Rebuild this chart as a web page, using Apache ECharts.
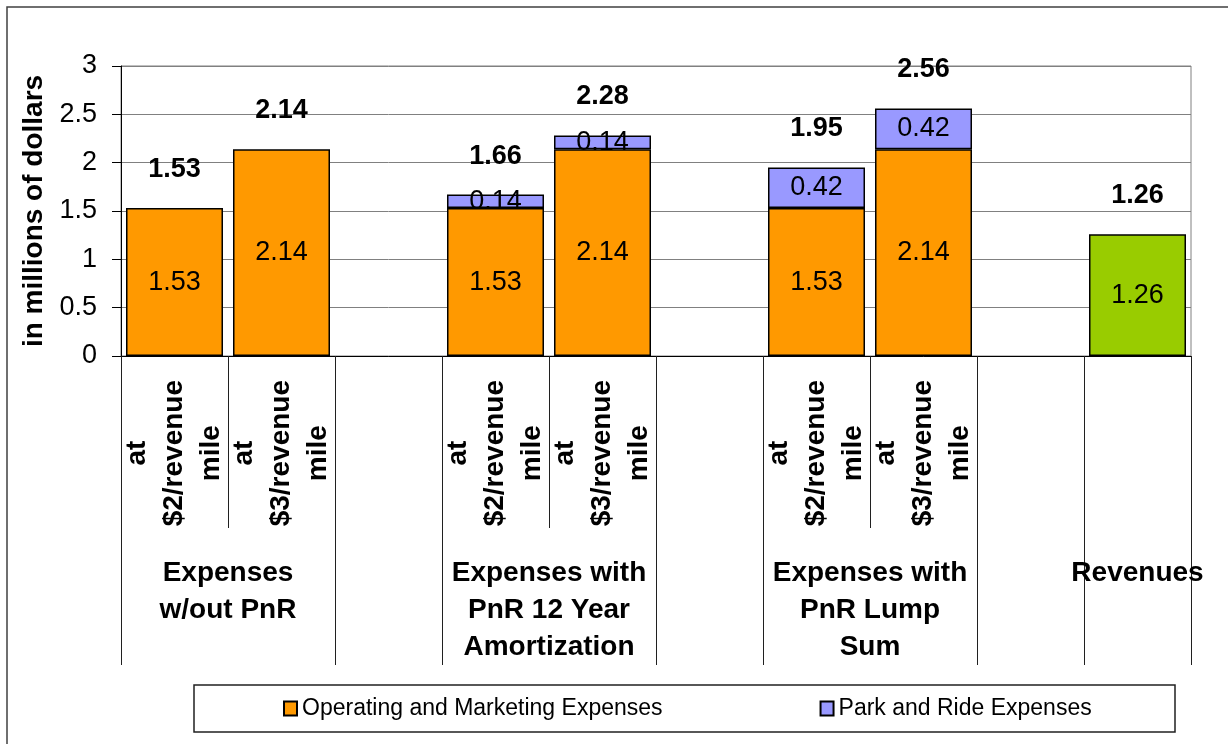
<!DOCTYPE html>
<html>
<head>
<meta charset="utf-8">
<script src="https://cdn.jsdelivr.net/npm/echarts@6/dist/echarts.min.js"></script>
<style>html,body{margin:0;padding:0;background:#fff}#c{width:1228px;height:744px}</style>
</head>
<body>
<div id="c"></div>
<script>
// ---- data ----
var slots = ['s0','s1','s2','s3','s4','s5','s6','s7','s8','s9'];
var subLabels = ['at\n$2/revenue\nmile','at\n$3/revenue\nmile','',
                 'at\n$2/revenue\nmile','at\n$3/revenue\nmile','',
                 'at\n$2/revenue\nmile','at\n$3/revenue\nmile','', ''];
var groupNames = ['Expenses\nw/out PnR','','Expenses with\nPnR 12 Year\nAmortization','','Expenses with\nPnR Lump\nSum','','Revenues'];
var groupSizes = [2,1,2,1,2,1,1];
var opValues  = [1.53, 2.14, null, 1.53, 2.14, null, 1.53, 2.14, null, 1.26];
var pnrValues = [null, null, null, 0.14, 0.14, null, 0.42, 0.42, null, null];
var totals    = [1.53, 2.14, null, 1.66, 2.28, null, 1.95, 2.56, null, 1.26];
var revenueIndex = 9;
var yTicks = [0, 0.5, 1, 1.5, 2, 2.5, 3];

// ---- derived ----
var bounds = [0], centers = [], centerNames = {};
var acc = 0;
groupSizes.forEach(function (s, i) {
  var c = acc + s / 2;
  if (groupNames[i]) { centers.push(c); centerNames[c] = groupNames[i]; }
  acc += s; bounds.push(acc);
});

var FONT = 'Liberation Sans';
var chart = echarts.init(document.getElementById('c'), null, {renderer: 'canvas'});

var opData = opValues.map(function (v, i) {
  if (i === revenueIndex) return {value: v, itemStyle: {color: '#99CC00'}};
  return v;
});

var lineStyleRich = {fontSize: 28, fontWeight: 'bold', lineHeight: 37, align: 'center', color: '#000', fontFamily: FONT};

chart.setOption({
  animation: false,
  textStyle: {fontFamily: FONT},
  graphic: [
    {type: 'rect', shape: {x: 7, y: 7, width: 1260, height: 780}, style: {fill: 'none', stroke: '#404040', lineWidth: 1.5}, silent: true, z: -1},
    {type: 'rect', shape: {x: 194, y: 685, width: 981, height: 47}, style: {fill: '#fff', stroke: '#202020', lineWidth: 1.5}, silent: true, z: -1}
  ],
  grid: {left: 121, right: 37, top: 66, bottom: 388, show: true, borderColor: '#808080', borderWidth: 1},
  legend: {
    data: ['Operating and Marketing Expenses', 'Park and Ride Expenses'],
    left: 278, top: 692, icon: 'rect', itemWidth: 13, itemHeight: 14, itemGap: 157,
    textStyle: {fontSize: 23, fontFamily: FONT, color: '#000'}
  },
  xAxis: [
    {
      type: 'category', data: slots, position: 'bottom',
      axisLine: {show: true, lineStyle: {color: '#000', width: 1}},
      axisTick: {show: true, length: 172, interval: 0, lineStyle: {color: '#202020', width: 1}},
      axisLabel: {
        interval: 0, rotate: 90, margin: 24,
        formatter: function (v, i) {
          var s = subLabels[i];
          if (!s) return '';
          return s.split('\n').map(function (p) { return '{t|' + p + '}'; }).join('\n');
        },
        rich: {t: lineStyleRich}
      },
      splitLine: {show: false}
    },
    {
      type: 'value', min: 0, max: slots.length, position: 'bottom',
      axisLine: {show: false},
      axisTick: {show: true, customValues: bounds, length: 309, lineStyle: {color: '#202020', width: 1}},
      axisLabel: {
        show: true, customValues: centers, margin: 199,
        fontSize: 28, fontWeight: 'bold', lineHeight: 37, color: '#000', fontFamily: FONT,
        formatter: function (v) { return centerNames[v] || ''; }
      },
      splitLine: {show: false}
    }
  ],
  yAxis: {
    type: 'value', min: yTicks[0], max: yTicks[yTicks.length - 1], interval: yTicks[1] - yTicks[0],
    name: 'in millions of dollars', nameLocation: 'middle', nameRotate: 90, nameGap: 72,
    nameTextStyle: {fontSize: 28, fontWeight: 'bold', color: '#000', fontFamily: FONT},
    axisLine: {show: true, lineStyle: {color: '#000', width: 1}},
    axisTick: {show: true, length: 9, lineStyle: {color: '#000'}},
    axisLabel: {fontSize: 27, color: '#000', margin: 24, fontFamily: FONT},
    splitLine: {show: true, lineStyle: {color: '#808080', width: 1}}
  },
  series: [
    {
      name: 'Operating and Marketing Expenses', type: 'bar', stack: 'total', xAxisIndex: 0,
      barWidth: 97, data: opData,
      itemStyle: {color: '#FF9900', borderColor: '#000', borderWidth: 1.5},
      label: {show: true, position: 'inside', fontSize: 27, color: '#000', fontFamily: FONT}
    },
    {
      name: 'Park and Ride Expenses', type: 'bar', stack: 'total', xAxisIndex: 0,
      barWidth: 97, data: pnrValues,
      itemStyle: {color: '#9999FF', borderColor: '#000', borderWidth: 1.5},
      label: {show: true, position: 'inside', fontSize: 27, color: '#000', fontFamily: FONT}
    },
    {
      name: 'Total', type: 'scatter', xAxisIndex: 0, data: totals, symbolSize: 1,
      itemStyle: {color: '#fff', opacity: 0}, silent: true,
      label: {show: true, position: 'top', distance: 25, fontSize: 27, fontWeight: 'bold', color: '#000', opacity: 1, textBorderWidth: 0, fontFamily: FONT}
    }
  ]
});
</script>
</body>
</html>
